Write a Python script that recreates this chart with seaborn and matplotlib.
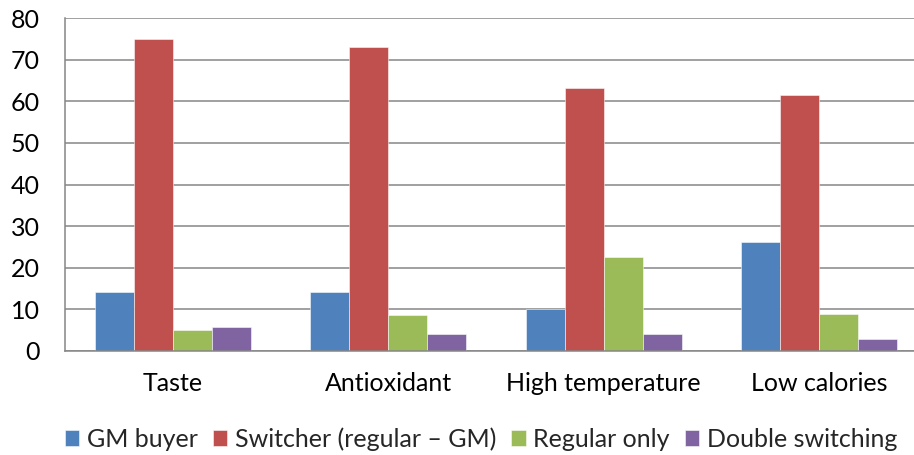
import matplotlib
matplotlib.use("Agg")
import matplotlib.pyplot as plt
import seaborn as sns
import pandas as pd

categories = ["Taste", "Antioxidant", "High temperature", "Low calories"]
series = ["GM buyer", "Switcher (regular \u2013 GM)", "Regular only", "Double switching"]
gm_buyer = [14.2, 14.2, 10.0, 26.3]
switcher = [75.0, 73.0, 63.3, 61.6]
regular_only = [5.0, 8.7, 22.6, 9.0]
double_switching = [5.7, 4.0, 4.0, 3.0]
y_ticks = [0, 10, 20, 30, 40, 50, 60, 70, 80]
colors = ["#4F81BD", "#C0504D", "#9BBB59", "#8064A2"]

rows = []
for s, vals in zip(series, [gm_buyer, switcher, regular_only, double_switching]):
    for c, v in zip(categories, vals):
        rows.append({"category": c, "series": s, "value": v})
df = pd.DataFrame(rows)

sns.set_theme(style="white")
plt.rcParams["font.family"] = ["Lato", "DejaVu Sans"]

fig = plt.figure(figsize=(9.14, 4.55), dpi=100)
ax = fig.add_axes([65 / 914, (455 - 351) / 455, 862 / 914, 333 / 455])

sns.barplot(data=df, x="category", y="value", hue="series", order=categories,
            hue_order=series, palette=colors, width=0.724, gap=0,
            edgecolor=(1, 1, 1, 0.6), linewidth=0.6, ax=ax, errorbar=None,
            saturation=1)

ax.set_xlim(-0.5, 3.5)
ax.set_ylim(0, 80)
ax.set_yticks(y_ticks)
ax.yaxis.grid(True, color="#868686", linewidth=1.1)
ax.set_axisbelow(True)
for side in ["top", "right"]:
    ax.spines[side].set_visible(False)
for side in ["left", "bottom"]:
    ax.spines[side].set_color("#868686")
    ax.spines[side].set_linewidth(1.1)
ax.set_xlabel("")
ax.set_ylabel("")
ax.tick_params(axis="y", length=0, pad=18, labelsize=18, labelcolor="black")
ax.tick_params(axis="x", length=0, pad=15, labelsize=18, labelcolor="black")

handles, labels = ax.get_legend_handles_labels()
ax.legend_.remove()
fig.legend(handles, labels, loc="center", bbox_to_anchor=(481 / 914, 1 - 439 / 455),
           ncol=4, frameon=False, fontsize=18, handlelength=0.58, handleheight=0.58,
           handletextpad=0.3, columnspacing=0.6, borderpad=0, borderaxespad=0)

fig.savefig("out.png", dpi=100)
